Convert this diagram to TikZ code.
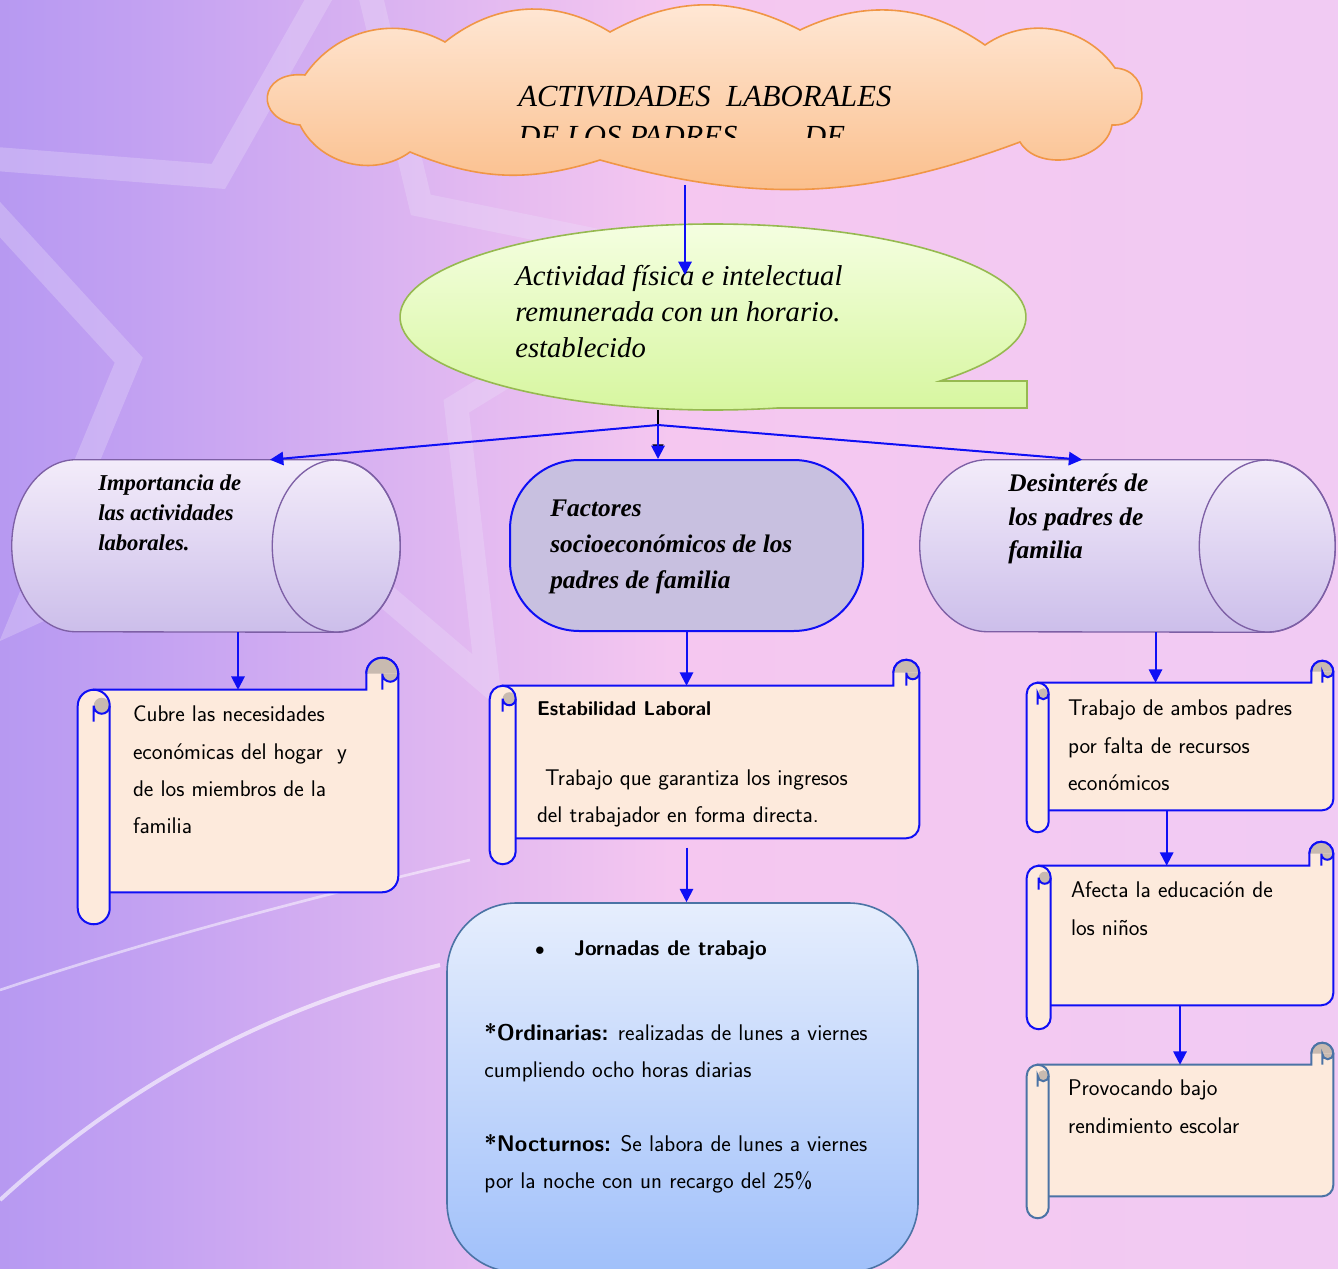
\documentclass[tikz,border=0pt]{standalone}
\usepackage{amsmath}
\usepackage{fontspec}
\setmainfont{Liberation Serif}
\usepackage{xcolor}
\usepackage{tikz}
\usetikzlibrary{shapes,arrows.meta}

\definecolor{azul}{RGB}{15,15,245}
\definecolor{crema}{RGB}{253,234,220}
\definecolor{gris}{RGB}{200,186,176}
\definecolor{acero}{RGB}{75,115,165}
\definecolor{naranja}{RGB}{240,150,70}
\definecolor{durazno}{RGB}{255,233,216}
\definecolor{duraznoB}{RGB}{250,188,135}
\definecolor{verde}{RGB}{150,185,80}
\definecolor{verdeA}{RGB}{246,255,228}
\definecolor{verdeB}{RGB}{214,246,158}
\definecolor{morado}{RGB}{125,95,165}
\definecolor{lilaA}{RGB}{243,236,250}
\definecolor{lilaB}{RGB}{204,190,234}
\definecolor{lavanda}{RGB}{200,192,224}
\definecolor{celesteA}{RGB}{230,238,253}
\definecolor{celesteB}{RGB}{160,192,250}
\definecolor{estrellaC}{RGB}{236,226,250}
\pgfdeclarehorizontalshading{fondo}{100bp}{rgb(0bp)=(.50,.45,.93); rgb(30bp)=(.76,.63,.95); rgb(50bp)=(.96,.78,.94); rgb(100bp)=(.93,.81,.97)}

% pergamino: #1 color, #2 nodo del cuerpo, #3 radio del rollo
\newcommand{\pergamino}[3][azul]{%
  \filldraw[draw=#1,line width=1.5pt,fill=crema]
    ([shift={(#3,0)}]#2.north west) -- ([shift={(-2*#3,0)}]#2.north east)
    -- ++(0,#3) arc[start angle=180,end angle=0,radius=#3]
    -- ([shift={(0,#3)}]#2.south east) arc[start angle=0,end angle=-90,radius=#3]
    -- ([shift={(#3,0)}]#2.south west) -- cycle;
  \fill[gris] ([shift={(-2*#3,#3)}]#2.north east) arc[start angle=180,end angle=0,radius=#3] -- cycle;
  \fill[gris] ([shift={(0,#3)}]#2.north east) arc[start angle=0,end angle=-180,radius=#3/2] -- cycle;
  \draw[#1,line width=1.5pt] ([shift={(-2*#3,#3)}]#2.north east) arc[start angle=180,end angle=0,radius=#3]
    arc[start angle=0,end angle=-180,radius=#3/2] -- ++(0,-#3);
  \fill[crema]
    ([shift={(2*#3,-#3)}]#2.north west) -- ([shift={(2*#3,-#3)}]#2.south west)
    arc[start angle=0,end angle=-180,radius=#3]
    -- ([shift={(0,-#3)}]#2.north west) arc[start angle=180,end angle=0,radius=#3] -- cycle;
  \fill[gris] ([shift={(1.5*#3,-#3)}]#2.north west) circle[radius=#3/2];
  \draw[#1,line width=1.5pt]
    ([shift={(2*#3,-#3)}]#2.north west) -- ([shift={(2*#3,-#3)}]#2.south west)
    arc[start angle=0,end angle=-180,radius=#3]
    -- ([shift={(0,-#3)}]#2.north west) arc[start angle=180,end angle=0,radius=#3] -- cycle;
  \draw[#1,line width=1.5pt] ([shift={(2*#3,-#3)}]#2.north west) arc[start angle=0,end angle=-180,radius=#3/2] -- ++(0,-#3);
}

% cilindro acostado: #1 nodo, #2 radio x de la tapa, #3 radio y
\newcommand{\cilindro}[3]{%
  \shade[draw=morado,line width=1pt,top color=lilaA,bottom color=lilaB]
    ([shift={(-#2,0)}]#1.north east) -- ([shift={(#2,0)}]#1.north west)
    arc[start angle=90,end angle=270,x radius=#2,y radius=#3]
    -- ([shift={(-#2,0)}]#1.south east)
    arc[start angle=-90,end angle=90,x radius=#2,y radius=#3] -- cycle;
  \draw[morado,line width=1pt] ([shift={(-#2,0)}]#1.east) ellipse[x radius=#2,y radius=#3];
}

\begin{document}
\begin{tikzpicture}[x=0.75pt,y=0.75pt,
    flecha/.style={draw=azul,line width=1.5pt,-{Triangle[length=10pt,width=10pt]}},
    flechanegra/.style={draw=black,line width=1.5pt,-{Triangle[length=8pt,width=8pt]}},
    cuerpo/.style={rectangle,inner sep=0pt},
    mano/.style={font=\fontsize{17}{28}\selectfont\sffamily,align=left,inner sep=0pt,anchor=north west},
    negrita/.style={font=\fontsize{17}{22.5}\selectfont\bfseries\itshape,align=left,inner sep=0pt,anchor=north west}]

\useasboundingbox (0,0) rectangle (1338,-1269);
\clip (0,0) rectangle (1338,-1269);

% fondo
\shade[shading=fondo] (0,0) rectangle (1338,-1269);
\node[star,star points=5,star point ratio=2.3,minimum size=600pt,draw=estrellaC,line width=18pt,draw opacity=0.3,rotate=-8] (estrella) at (300,-330) {};
\draw[white,line width=3pt,opacity=0.6] (0,-1200) .. controls (120,-1090) and (260,-1010) .. (440,-965);
\draw[white,line width=2pt,opacity=0.5] (0,-990) .. controls (150,-940) and (300,-900) .. (470,-860);

% titulo
\shade[draw=naranja,line width=1.2pt,top color=durazno,bottom color=duraznoB]
  (300,-125) to[bend left=90,looseness=2.4] (305,-75) to[bend left=42] (445,-42)
  to[bend left=35] (610,-32) to[bend left=28] (800,-30) to[bend left=30] (985,-45)
  to[bend left=45] (1115,-68) to[bend left=90,looseness=1.7] (1112,-125)
  to[bend left=70] (1020,-142) to[bend left=18] (600,-160) to[bend left=20] (410,-152)
  to[bend left=50] (300,-125) -- cycle;
\coordinate (nube) at (685,-185);
\begin{scope}
  \clip (300,-20) rectangle (1100,-138);
  \node[anchor=north west,align=left,inner sep=0pt,font=\fontsize{23}{30}\selectfont\itshape] (tit) at (518,-86)
    {ACTIVIDADES\ \ LABORALES\\DE LOS PADRES\hspace{50pt}DE};
\end{scope}

% definicion
\shade[draw=verde,line width=1.2pt,top color=verdeA,bottom color=verdeB]
  (713,-317) ++(-43.5:313 and 93) arc[start angle=-43.5,end angle=282,x radius=313,y radius=93]
  -- (1027,-408) -- (1027,-381) -- cycle;
\node[ellipse,minimum width=469.5pt,minimum height=139.5pt,inner sep=0pt] (act) at (713,-317) {};
\node[anchor=north west,align=left,inner sep=0pt,font=\fontsize{21.5}{27}\selectfont\itshape] (actT)
  at ([shift={(-198,52)}]act.center) {Actividad física e intelectual\\remunerada con un horario.\\establecido};

% tres ramas
\node[cuerpo,minimum width=291pt,minimum height=129pt] (imp) at (206,-546) {};
\cilindro{imp}{64}{86}
\node[negrita] (impT) at ([shift={(-108,71)}]imp.center) {Importancia de\\las actividades\\laborales.};

\node[draw=azul,line width=1.5pt,fill=lavanda,rounded corners=52pt,minimum width=264.75pt,minimum height=128.25pt] (fac) at (686.5,-545.5) {};
\node[negrita,font=\fontsize{19}{27}\selectfont\bfseries\itshape] (facT) at ([shift={(-136.5,45.5)}]fac.center)
  {Factores\\socioeconómicos de los\\padres de familia};

\node[cuerpo,minimum width=311.25pt,minimum height=129pt] (des) at (1127.5,-546) {};
\cilindro{des}{68}{86}
\node[negrita,font=\fontsize{19}{25}\selectfont\bfseries\itshape] (desT) at ([shift={(-119.5,72)}]des.center)
  {Desinterés de\\los padres de\\familia};

% pergaminos
\node[cuerpo,minimum width=240pt,minimum height=151.5pt] (escA) at (238,-791) {};
\pergamino{escA}{16}
\node[mano] (cubre) at ([shift={(55,-16)}]escA.north west)
  {Cubre las necesidades\\económicas del hogar\ \ y\\de los miembros de la\\familia};

\node[cuerpo,minimum width=321.75pt,minimum height=114pt] (escB) at (704.5,-762) {};
\pergamino{escB}{13}
\node[mano] (estab) at ([shift={(47,-16)}]escB.north west)
  {{\fontsize{15}{28}\selectfont\textbf{Estabilidad Laboral}}\\[24pt]\hspace{6pt}Trabajo que garantiza los ingresos\\del trabajador en forma directa.};

\node[cuerpo,minimum width=229.5pt,minimum height=95.25pt] (escC) at (1180,-746.5) {};
\pergamino{escC}{11}
\node[mano] (ambos) at ([shift={(41,-17)}]escC.north west)
  {Trabajo de ambos padres\\por falta de recursos\\económicos};

\node[cuerpo,minimum width=229.5pt,minimum height=104.25pt] (escD) at (1180,-935.5) {};
\pergamino{escD}{12}
\node[mano] (afecta) at ([shift={(44,-16)}]escD.north west)
  {Afecta la educación de\\los niños};

\node[cuerpo,minimum width=229.5pt,minimum height=98.25pt] (escE) at (1180,-1130.5) {};
\pergamino[acero]{escE}{11}
\node[mano] (bajo) at ([shift={(41,-15)}]escE.north west)
  {Provocando bajo\\rendimiento escolar};

% jornadas
\node[draw=acero,line width=1.2pt,top color=celesteA,bottom color=celesteB,rounded corners=52pt,
      minimum width=353.25pt,minimum height=276.75pt] (jor) at (682.5,-1087.5) {};
\node[mano] (jorT) at ([shift={(38,-38)}]jor.north west)
  {\hspace{38pt}{\Large$\bullet$}\hspace{22pt}{\fontsize{16}{28}\selectfont\textbf{Jornadas de trabajo}}\\[36pt]
   \textbf{*Ordinarias:} realizadas de lunes a viernes\\cumpliendo ocho horas diarias\\[27pt]
   \textbf{*Nocturnos:} Se labora de lunes a viernes\\por la noche con un recargo del 25\%};

% conectores
\coordinate (pA) at (685,-275);
\draw[flecha] (nube) -- (pA);
\coordinate (hub) at (658,-425);
\coordinate (hubF) at (hub |- fac.north);
\draw[flechanegra,shorten >=3pt] (hub |- act.south) -- (hubF);
\draw[flecha] (hub) -- (hubF);
\draw[flecha] (hub) -- ([xshift=48pt]imp.north);
\draw[flecha] (hub) -- ([xshift=-34pt]des.north);

\draw[flecha] (imp.south -| escA.north) -- (escA.north);
\draw[flecha] (fac.south) -- (fac.south |- escB.north);
\coordinate (bS) at (fac.south |- escB.south);
\draw[flecha] ([yshift=-7pt]bS) -- (bS |- jor.north);
\coordinate (dS) at ([xshift=21pt]des.south);
\draw[flecha] (dS) -- (dS |- escC.north);
\coordinate (cS) at ([xshift=-10pt]escC.south);
\draw[flecha] (cS) -- (cS |- escD.north);
\draw[flecha] (escD.south) -- (escE.north);

\end{tikzpicture}
\end{document}
